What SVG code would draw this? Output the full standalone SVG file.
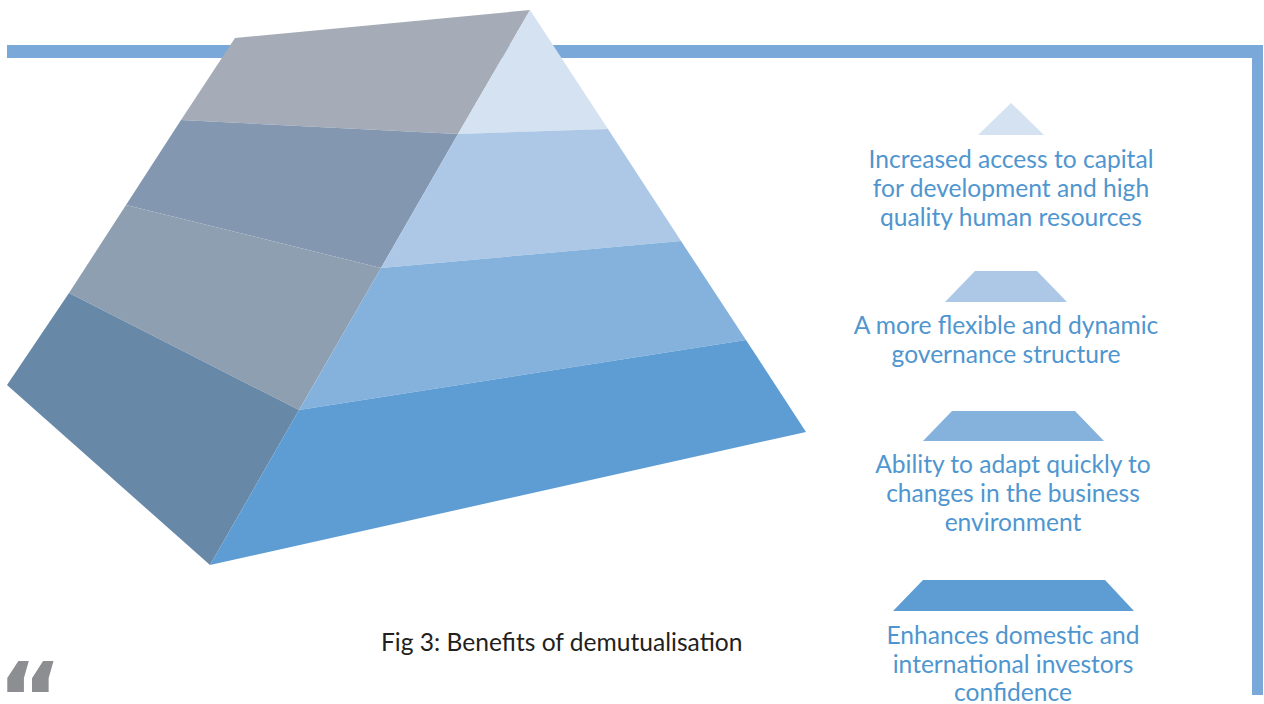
<svg xmlns="http://www.w3.org/2000/svg" width="1264" height="704" viewBox="0 0 1264 704">
  <style>
    .lbl { font-family: Lato, "Noto Sans", sans-serif; font-size: 24.6px; fill: #4f96d0; text-anchor: middle; }
    .cap { font-family: Lato, "Noto Sans", sans-serif; font-size: 24.6px; fill: #231f20; }
    .quote { font-family: "DejaVu Sans", sans-serif; font-weight: bold; font-size: 100px; fill: #8c8e91; }
    .t1 { fill: #d4e2f1; }
    .t2 { fill: #adc8e6; }
    .t3 { fill: #85b2dd; }
    .t4 { fill: #5d9dd3; }
  </style>

  <!-- page frame -->
  <g id="frame" fill="#7aa9d9">
    <rect x="7" y="45" width="1256" height="13"/>
    <rect x="1252" y="45" width="11" height="650"/>
  </g>

  <!-- 3D pyramid: shaded side face -->
  <g id="pyramid-side">
    <polygon points="235,38 530,10 458,134 181,120" fill="#a5acb7"/>
    <polygon points="181,120 458,134 381,268 126,205" fill="#8497b0"/>
    <polygon points="126,205 381,268 299,410 69,293" fill="#8f9fb2"/>
    <polygon points="69,293 299,410 210,565 7,385" fill="#6888a8"/>
  </g>

  <!-- 3D pyramid: front face in four tiers -->
  <g id="pyramid-front">
    <polygon class="t1" points="530,10 608,129 458,134"/>
    <polygon class="t2" points="458,134 608,129 681,241 381,268"/>
    <polygon class="t3" points="381,268 681,241 746,340 299,410"/>
    <polygon class="t4" points="299,410 746,340 806,432 210,565"/>
  </g>

  <!-- legend tiers -->
  <g id="tier-1">
    <polygon class="t1" points="1011,103 1044,135 978,135"/>
    <text class="lbl" x="1011" y="168">Increased access to capital</text>
    <text class="lbl" x="1011" y="197">for development  and high</text>
    <text class="lbl" x="1011" y="226">quality human resources</text>
  </g>
  <g id="tier-2">
    <polygon class="t2" points="975,271 1037,271 1067,302 945,302"/>
    <text class="lbl" x="1006" y="334">A more flexible and dynamic</text>
    <text class="lbl" x="1006" y="363">governance structure</text>
  </g>
  <g id="tier-3">
    <polygon class="t3" points="952,411 1075,411 1104,441 923,441"/>
    <text class="lbl" x="1013" y="473">Ability to adapt quickly to</text>
    <text class="lbl" x="1013" y="502">changes in the business</text>
    <text class="lbl" x="1013" y="531">environment</text>
  </g>
  <g id="tier-4">
    <polygon class="t4" points="923,580 1105,580 1134,611 893,611"/>
    <text class="lbl" x="1013" y="644">Enhances domestic and</text>
    <text class="lbl" x="1013" y="673">international investors</text>
    <text class="lbl" x="1013" y="701">confidence</text>
  </g>

  <g id="caption">
    <text class="cap" x="381" y="651">Fig 3: Benefits of demutualisation</text>
  </g>

  <g id="quote-mark">
    <text class="quote" x="-3" y="734">“</text>
  </g>
</svg>
